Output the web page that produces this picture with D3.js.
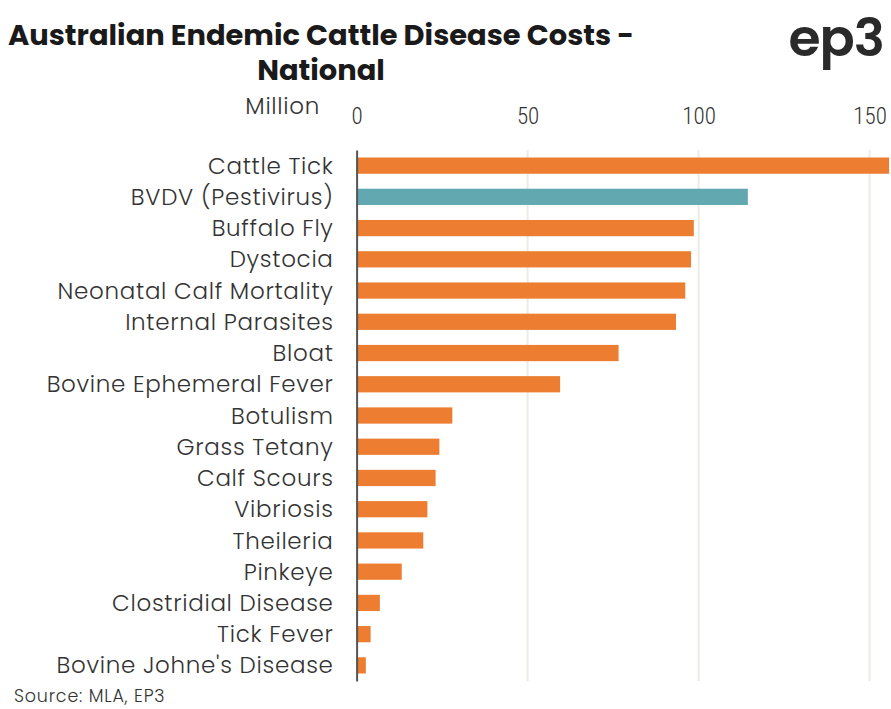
<!DOCTYPE html>
<html>
<head>
<meta charset="utf-8">
<script src="https://cdn.jsdelivr.net/npm/d3@7"></script>
<style>
  html, body { margin: 0; padding: 0; background: #fff; }
  svg { display: block; }
</style>
</head>
<body>
<svg id="chart" width="891" height="709"></svg>
<script>
const categories = [
  "Cattle Tick", "BVDV (Pestivirus)", "Buffalo Fly", "Dystocia",
  "Neonatal Calf Mortality", "Internal Parasites", "Bloat",
  "Bovine Ephemeral Fever", "Botulism", "Grass Tetany", "Calf Scours",
  "Vibriosis", "Theileria", "Pinkeye", "Clostridial Disease",
  "Tick Fever", "Bovine Johne's Disease"
];
const values = [155.7, 114.4, 98.6, 97.8, 96.1, 93.4, 76.6, 59.5, 28.0, 24.2, 23.1, 20.7, 19.5, 13.2, 6.8, 4.1, 2.7];
const highlight = ["BVDV (Pestivirus)"];
const tickValues = [0, 50, 100, 150];
const titleLines = ["Australian Endemic Cattle Disease Costs -", "National"];
const unitLabel = "Million";
const sourceText = "Source: MLA, EP3";
const logoText = "ep3";

const svg = d3.select("#chart");
const labelFont = "'Poppins', 'Noto Sans', sans-serif";

const x = d3.scaleLinear().domain([0, 150]).range([356.6, 869.6]);
const y = d3.scaleBand().domain(categories).range([150, 681]).paddingInner(0.48).paddingOuter(0.24);

// gridlines
svg.append("g").selectAll("line").data(tickValues.filter(d => d !== 0)).join("line")
  .attr("x1", d => x(d)).attr("x2", d => x(d))
  .attr("y1", 150).attr("y2", 681)
  .attr("stroke", "#ecece4").attr("stroke-width", 2);

// bars
svg.append("g").selectAll("rect").data(categories).join("rect")
  .attr("x", x(0))
  .attr("y", d => y(d))
  .attr("width", (d, i) => x(values[i]) - x(0))
  .attr("height", y.bandwidth())
  .attr("fill", d => highlight.includes(d) ? "#62a8b1" : "#ed7d31");

// y axis
const yAxis = svg.append("g").attr("transform", `translate(${x(0)},0)`)
  .call(d3.axisLeft(y).tickSize(0).tickPadding(23));
yAxis.select(".domain").attr("stroke", "#555").attr("stroke-width", 2);
yAxis.selectAll("text")
  .attr("font-family", labelFont)
  .attr("font-weight", 300)
  .attr("font-size", 23)
  .attr("letter-spacing", 0.7)
  .attr("dy", "0.35em")
  .attr("fill", "#333");

// x axis on top
const xAxis = svg.append("g").attr("transform", `translate(0,124)`)
  .call(d3.axisTop(x).tickValues(tickValues).tickSize(0).tickPadding(0));
xAxis.select(".domain").remove();
xAxis.selectAll("text")
  .attr("font-family", "'Roboto', sans-serif")
  .attr("font-stretch", "condensed")
  .attr("font-weight", 300)
  .attr("font-size", 23)
  .attr("fill", "#333");

// unit label
svg.append("text").attr("x", 320).attr("y", 114).attr("text-anchor", "end")
  .attr("font-family", labelFont).attr("font-weight", 300).attr("font-size", 23)
  .attr("letter-spacing", 0.7).attr("fill", "#333")
  .text(unitLabel);

// title (single text element, two lines)
const title = svg.append("text")
  .attr("text-anchor", "middle")
  .attr("font-family", "'Poppins', 'Open Sans', sans-serif")
  .attr("font-weight", 700)
  .attr("font-size", 28.9)
  .attr("fill", "#1a1a1a");
title.selectAll("tspan").data(titleLines).join("tspan")
  .attr("x", 321).attr("y", (d, i) => 45 + i * 35)
  .text(d => d);

// logo
svg.append("text").attr("x", 884).attr("y", 56).attr("text-anchor", "end")
  .attr("font-family", "'Poppins', sans-serif").attr("font-weight", 600)
  .attr("font-size", 52).attr("letter-spacing", -1).attr("fill", "#2a2a2a")
  .text(logoText);

// source
svg.append("text").attr("x", 14).attr("y", 702)
  .attr("font-family", labelFont).attr("font-weight", 300).attr("font-size", 17.5)
  .attr("letter-spacing", 0.8).attr("fill", "#333")
  .text(sourceText);
</script>
</body>
</html>
